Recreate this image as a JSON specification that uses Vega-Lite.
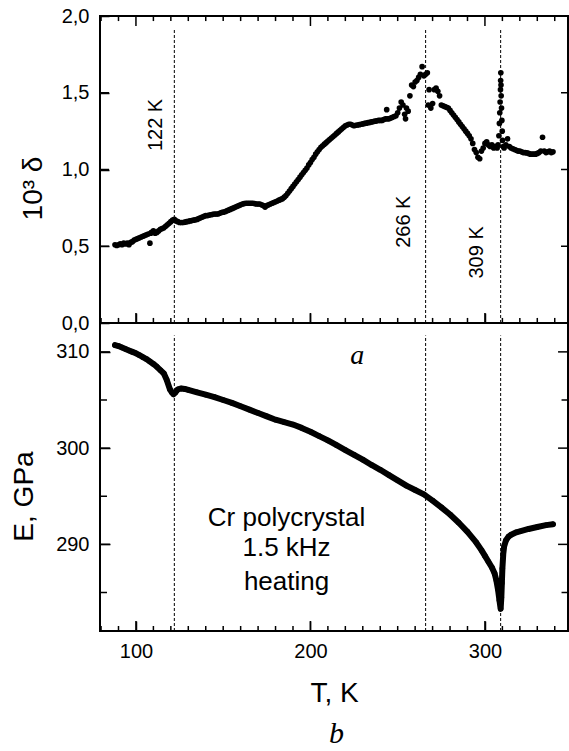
{
 "$schema": "https://vega.github.io/schema/vega-lite/v6.json",
 "background": "white",
 "padding": {"left": 9, "top": 5, "right": 0, "bottom": 3},
 "spacing": 0,
 "bounds": "flush",
 "config": {
  "view": {"stroke": "black", "strokeWidth": 2},
  "font": "Liberation Sans"
 },
 "title": {"text": "b", "orient": "bottom", "anchor": "middle", "font": "Liberation Serif", "fontStyle": "italic", "fontWeight": "normal", "fontSize": 30, "offset": 11, "dx": 47, "color": "black"},
 "datasets": {
  "delta": [
   {"T":88,"d":0.51},{"T":89,"d":0.505},{"T":90,"d":0.51},{"T":91,"d":0.515},{"T":92,"d":0.51},{"T":93,"d":0.52},{"T":94,"d":0.515},{"T":95,"d":0.52},{"T":96,"d":0.51},{"T":97,"d":0.525},{"T":98,"d":0.53},{"T":99,"d":0.54},{"T":100,"d":0.545},{"T":101,"d":0.55},{"T":102,"d":0.555},{"T":103,"d":0.56},{"T":104,"d":0.565},{"T":105,"d":0.57},{"T":106,"d":0.575},{"T":107,"d":0.58},{"T":108,"d":0.52},{"T":108.5,"d":0.585},{"T":109,"d":0.59},{"T":110,"d":0.6},{"T":111,"d":0.585},{"T":112,"d":0.59},{"T":113,"d":0.6},{"T":114,"d":0.61},{"T":115,"d":0.615},{"T":116,"d":0.62},{"T":117,"d":0.63},{"T":118,"d":0.64},{"T":119,"d":0.65},{"T":120,"d":0.66},{"T":121,"d":0.67},{"T":122,"d":0.675},{"T":123,"d":0.665},
   {"T":124,"d":0.66},{"T":125,"d":0.655},{"T":126,"d":0.655},{"T":127,"d":0.655},{"T":128,"d":0.657},{"T":129,"d":0.66},{"T":130,"d":0.662},{"T":131,"d":0.665},{"T":132,"d":0.667},{"T":133,"d":0.67},{"T":134,"d":0.672},{"T":135,"d":0.675},{"T":136,"d":0.68},{"T":137,"d":0.685},{"T":138,"d":0.69},{"T":139,"d":0.695},{"T":140,"d":0.7},{"T":141,"d":0.7},{"T":142,"d":0.703},{"T":143,"d":0.705},{"T":144,"d":0.708},{"T":145,"d":0.71},{"T":146,"d":0.71},{"T":147,"d":0.71},{"T":148,"d":0.715},{"T":149,"d":0.72},{"T":150,"d":0.722},{"T":151,"d":0.725},{"T":152,"d":0.73},{"T":153,"d":0.735},{"T":154,"d":0.74},{"T":155,"d":0.745},{"T":156,"d":0.75},{"T":157,"d":0.755},{"T":158,"d":0.76},{"T":159,"d":0.765},{"T":160,"d":0.77},{"T":161,"d":0.775},{"T":162,"d":0.778},{"T":163,"d":0.78},{"T":164,"d":0.78},{"T":165,"d":0.78},{"T":166,"d":0.78},{"T":167,"d":0.78},{"T":168,"d":0.778},{"T":169,"d":0.775},{"T":170,"d":0.775},{"T":171,"d":0.775},{"T":172,"d":0.77},{"T":173,"d":0.765},{"T":174,"d":0.755},{"T":175,"d":0.765},{"T":176,"d":0.77},{"T":177,"d":0.775},{"T":178,"d":0.78},{"T":179,"d":0.785},{"T":180,"d":0.79},{"T":181,"d":0.795},{"T":182,"d":0.8},{"T":183,"d":0.805},{"T":184,"d":0.81},{"T":185,"d":0.82},{"T":186,"d":0.83},{"T":187,"d":0.845},{"T":188,"d":0.86},{"T":189,"d":0.875},{"T":190,"d":0.89},{"T":191,"d":0.905},{"T":192,"d":0.92},{"T":193,"d":0.935},{"T":194,"d":0.95},{"T":195,"d":0.965},{"T":196,"d":0.98},{"T":197,"d":0.995},{"T":198,"d":1.01},{"T":199,"d":1.03},{"T":200,"d":1.045},{"T":201,"d":1.065},{"T":202,"d":1.08},{"T":203,"d":1.1},{"T":204,"d":1.115},{"T":205,"d":1.13},{"T":206,"d":1.145},{"T":207,"d":1.155},{"T":208,"d":1.165},{"T":209,"d":1.175},{"T":210,"d":1.185},{"T":211,"d":1.195},{"T":212,"d":1.205},{"T":213,"d":1.215},{"T":214,"d":1.225},{"T":215,"d":1.235},{"T":216,"d":1.245},{"T":217,"d":1.255},{"T":218,"d":1.265},{"T":219,"d":1.275},{"T":220,"d":1.285},{"T":221,"d":1.29},{"T":222,"d":1.295},{"T":223,"d":1.295},{"T":224,"d":1.29},{"T":225,"d":1.285},{"T":226,"d":1.288},{"T":227,"d":1.29},{"T":228,"d":1.292},{"T":229,"d":1.295},{"T":230,"d":1.297},{"T":231,"d":1.3},{"T":232,"d":1.302},{"T":233,"d":1.305},{"T":234,"d":1.307},{"T":235,"d":1.31},{"T":236,"d":1.312},{"T":237,"d":1.315},{"T":238,"d":1.317},{"T":239,"d":1.32},{"T":240,"d":1.32},{"T":241,"d":1.32},{"T":242,"d":1.325},{"T":243,"d":1.33},{"T":243.7,"d":1.39},{"T":244,"d":1.33},{"T":245,"d":1.33},{"T":246,"d":1.335},{"T":247,"d":1.34},{"T":248,"d":1.345},{"T":249,"d":1.35},
   {"T":250,"d":1.37},{"T":251,"d":1.4},{"T":252,"d":1.44},{"T":253,"d":1.42},{"T":254,"d":1.36},{"T":254.5,"d":1.33},{"T":255,"d":1.4},{"T":256,"d":1.38},{"T":257,"d":1.48},{"T":258,"d":1.55},{"T":259,"d":1.54},{"T":260,"d":1.57},{"T":261,"d":1.58},{"T":262,"d":1.6},{"T":263,"d":1.62},{"T":264,"d":1.67},{"T":265,"d":1.61},{"T":266,"d":1.62},{"T":267,"d":1.63},{"T":267.5,"d":1.42},{"T":268,"d":1.52},{"T":269,"d":1.4},{"T":270,"d":1.43},{"T":271,"d":1.52},{"T":272,"d":1.53},{"T":273,"d":1.51},{"T":274,"d":1.48},{"T":275,"d":1.42},{"T":276,"d":1.415},{"T":277,"d":1.41},{"T":278,"d":1.405},{"T":279,"d":1.4},{"T":280,"d":1.385},{"T":281,"d":1.37},{"T":282,"d":1.355},{"T":283,"d":1.34},{"T":284,"d":1.325},{"T":285,"d":1.31},{"T":286,"d":1.295},{"T":287,"d":1.28},{"T":288,"d":1.265},{"T":289,"d":1.25},{"T":290,"d":1.235},{"T":291,"d":1.22},{"T":292,"d":1.2},{"T":293,"d":1.17},{"T":294,"d":1.13},{"T":295,"d":1.11},{"T":296,"d":1.08},{"T":297,"d":1.07},{"T":298,"d":1.12},{"T":299,"d":1.14},{"T":300,"d":1.17},{"T":301,"d":1.18},{"T":302,"d":1.16},{"T":303,"d":1.15},{"T":304,"d":1.16},{"T":305,"d":1.14},{"T":306,"d":1.15},{"T":307,"d":1.14},{"T":307.5,"d":1.16},{"T":308,"d":1.22},{"T":308.3,"d":1.3},{"T":308.5,"d":1.37},{"T":308.7,"d":1.44},{"T":308.9,"d":1.52},{"T":309,"d":1.58},{"T":309.1,"d":1.63},{"T":309.2,"d":1.55},{"T":309.3,"d":1.48},{"T":309.5,"d":1.4},{"T":309.7,"d":1.32},{"T":309.9,"d":1.25},{"T":310.1,"d":1.19},{"T":310.5,"d":1.15},{"T":311,"d":1.14},{"T":312,"d":1.16},{"T":313,"d":1.2},{"T":314,"d":1.15},{"T":315,"d":1.14},{"T":316,"d":1.135},{"T":317,"d":1.13},{"T":318,"d":1.125},{"T":319,"d":1.12},{"T":320,"d":1.12},{"T":321,"d":1.115},{"T":322,"d":1.11},{"T":323,"d":1.11},{"T":324,"d":1.108},{"T":325,"d":1.105},{"T":326,"d":1.1},{"T":327,"d":1.1},{"T":328,"d":1.1},{"T":329,"d":1.1},{"T":330,"d":1.105},{"T":331,"d":1.11},{"T":332,"d":1.12},{"T":333,"d":1.21},{"T":334,"d":1.12},{"T":335,"d":1.11},{"T":336,"d":1.115},{"T":337,"d":1.12},{"T":338,"d":1.11},{"T":339,"d":1.115}
  ],
  "modulus": [
   {"T":88,"E":310.7},{"T":90,"E":310.6},{"T":92,"E":310.45},{"T":94,"E":310.3},{"T":96,"E":310.15},{"T":98,"E":310.0},{"T":100,"E":309.85},{"T":102,"E":309.65},{"T":104,"E":309.45},{"T":106,"E":309.25},{"T":108,"E":309.0},{"T":110,"E":308.75},{"T":112,"E":308.45},{"T":114,"E":308.1},{"T":116,"E":307.75},{"T":117.6,"E":307.1},{"T":119.5,"E":306.1},{"T":120.5,"E":305.8},{"T":121.5,"E":305.6},{"T":122.5,"E":305.75},{"T":124,"E":306.1},{"T":126,"E":306.2},{"T":128,"E":306.15},{"T":130,"E":306.05},{"T":135,"E":305.8},{"T":140,"E":305.55},{"T":145,"E":305.3},{"T":150,"E":305.0},{"T":155,"E":304.7},{"T":160,"E":304.35},{"T":165,"E":304.0},{"T":170,"E":303.65},{"T":175,"E":303.3},{"T":180,"E":302.95},{"T":185,"E":302.7},{"T":190,"E":302.45},{"T":195,"E":302.1},{"T":200,"E":301.7},{"T":205,"E":301.25},{"T":210,"E":300.8},{"T":215,"E":300.3},{"T":220,"E":299.8},{"T":225,"E":299.3},{"T":230,"E":298.8},{"T":235,"E":298.25},{"T":240,"E":297.75},{"T":245,"E":297.2},{"T":250,"E":296.65},{"T":255,"E":296.1},{"T":260,"E":295.65},{"T":265,"E":295.2},{"T":270,"E":294.55},{"T":275,"E":293.85},{"T":280,"E":293.1},{"T":285,"E":292.25},{"T":290,"E":291.3},{"T":295,"E":290.2},{"T":298,"E":289.4},{"T":300,"E":288.8},{"T":302,"E":288.2},{"T":304,"E":287.6},{"T":305.5,"E":287.0},{"T":306.5,"E":286.3},{"T":307.5,"E":285.3},{"T":308.3,"E":284.2},{"T":309,"E":283.3},{"T":309.4,"E":284.5},{"T":309.7,"E":286.0},{"T":310,"E":287.5},{"T":310.5,"E":289.0},{"T":311,"E":289.8},{"T":312,"E":290.4},{"T":313.5,"E":290.8},{"T":315,"E":291.0},{"T":318,"E":291.25},{"T":320,"E":291.35},{"T":325,"E":291.6},{"T":330,"E":291.8},{"T":335,"E":292.0},{"T":339,"E":292.1}
  ],
  "transitions": [{"T":122},{"T":266},{"T":309}],
  "tlabels": [{"T":111.4,"d":1.29,"label":"122 K"},{"T":253.8,"d":0.66,"label":"266 K"},{"T":295.4,"d":0.46,"label":"309 K"}],
  "notes": [{"T":186.3,"E":292.7,"label":"Cr polycrystal"},{"T":186.3,"E":289.6,"label":"1.5 kHz"},{"T":186.3,"E":286.1,"label":"heating"}],
  "panel": [{"T":226.8,"E":309.55,"label":"a"}],
  "xmajor": [{"T":100},{"T":200},{"T":300}],
  "xminor": [{"T":80},{"T":90},{"T":110},{"T":120},{"T":130},{"T":140},{"T":150},{"T":160},{"T":170},{"T":180},{"T":190},{"T":210},{"T":220},{"T":230},{"T":240},{"T":250},{"T":260},{"T":270},{"T":280},{"T":290},{"T":310},{"T":320},{"T":330},{"T":340}],
  "dticks": [{"d":0.5},{"d":1},{"d":1.5}],
  "emajor": [{"E":290},{"E":300},{"E":310}],
  "eminor": [{"E":285},{"E":295},{"E":305}]
 },
 "vconcat": [
  {
   "width": 468, "height": 307,
   "resolve": {"axis": {"x": "independent", "y": "independent"}},
   "layer": [
    {
     "data": {"name": "delta"},
     "mark": {"type": "circle", "size": 32, "color": "black", "opacity": 1},
     "encoding": {
      "x": {"field": "T", "type": "quantitative", "scale": {"domain": [79.4, 347.6], "nice": false, "zero": false},
            "axis": {"orient": "bottom", "values": [100, 200, 300], "domain": false, "grid": false, "tickColor": "black", "tickWidth": 1.5, "offset": -10, "tickSize": 10, "labels": false, "title": null}},
      "y": {"field": "d", "type": "quantitative", "scale": {"domain": [0, 2], "nice": false, "zero": false},
            "axis": {"orient": "left", "values": [0, 0.5, 1, 1.5, 2], "domain": false, "grid": false, "tickColor": "black", "tickWidth": 1.5, "offset": -9, "tickSize": 9, "labelPadding": 11, "labelFont": "Liberation Sans", "labelFontSize": 20, "labelColor": "black", "labelExpr": "replace(format(datum.value, '.1f'), '.', ',')", "title": "10³ δ", "titleFont": "Liberation Sans", "titleFontSize": 28, "titleFontWeight": "normal", "titleColor": "black", "titleX": -76, "titleY": 172, "titleBaseline": "middle"}}
     }
    },
    {
     "data": {"name": "transitions"},
     "mark": {"type": "rule", "color": "black", "strokeWidth": 1, "strokeDash": [3, 2]},
     "encoding": {
      "x": {"field": "T", "type": "quantitative", "axis": null},
      "y": {"datum": 0, "type": "quantitative", "axis": null},
      "y2": {"datum": 1.92}
     }
    },
    {
     "data": {"name": "tlabels"},
     "mark": {"type": "text", "angle": 270, "align": "center", "baseline": "middle", "font": "Liberation Sans", "fontSize": 20, "color": "black"},
     "encoding": {
      "x": {"field": "T", "type": "quantitative", "axis": null},
      "y": {"field": "d", "type": "quantitative", "axis": null},
      "text": {"field": "label"}
     }
    },
    {"data": {"name": "xmajor"}, "mark": {"type": "rule", "color": "black", "strokeWidth": 1.5},
     "encoding": {"x": {"field": "T", "type": "quantitative", "axis": null}, "y": {"datum": 0, "type": "quantitative", "axis": null}, "y2": {"datum": 0.065}}},
    {"data": {"name": "xminor"}, "mark": {"type": "rule", "color": "black", "strokeWidth": 1.5},
     "encoding": {"x": {"field": "T", "type": "quantitative", "axis": null}, "y": {"datum": 0, "type": "quantitative", "axis": null}, "y2": {"datum": 0.033}}},
    {"data": {"name": "xmajor"}, "mark": {"type": "rule", "color": "black", "strokeWidth": 1.5},
     "encoding": {"x": {"field": "T", "type": "quantitative", "axis": null}, "y": {"datum": 2, "type": "quantitative", "axis": null}, "y2": {"datum": 1.935}}},
    {"data": {"name": "xminor"}, "mark": {"type": "rule", "color": "black", "strokeWidth": 1.5},
     "encoding": {"x": {"field": "T", "type": "quantitative", "axis": null}, "y": {"datum": 2, "type": "quantitative", "axis": null}, "y2": {"datum": 1.967}}},
    {"data": {"name": "dticks"}, "mark": {"type": "rule", "color": "black", "strokeWidth": 1.5},
     "encoding": {"y": {"field": "d", "type": "quantitative", "axis": null}, "x": {"datum": 79.4, "type": "quantitative", "axis": null}, "x2": {"datum": 84.6}}},
    {"data": {"name": "dticks"}, "mark": {"type": "rule", "color": "black", "strokeWidth": 1.5},
     "encoding": {"y": {"field": "d", "type": "quantitative", "axis": null}, "x": {"datum": 347.6, "type": "quantitative", "axis": null}, "x2": {"datum": 343.6}}}
   ]
  },
  {
   "width": 468, "height": 308,
   "resolve": {"axis": {"x": "independent", "y": "independent"}},
   "layer": [
    {
     "data": {"name": "modulus"},
     "mark": {"type": "line", "color": "black", "strokeWidth": 6, "strokeCap": "round", "strokeJoin": "round"},
     "encoding": {
      "x": {"field": "T", "type": "quantitative", "scale": {"domain": [79.4, 347.6], "nice": false, "zero": false},
            "axis": {"orient": "bottom", "values": [100, 200, 300], "domain": false, "grid": false, "tickColor": "black", "tickWidth": 1.5, "offset": -10, "tickSize": 10, "labelFont": "Liberation Sans", "labelFontSize": 20, "labelColor": "black", "labelBaseline": "alphabetic", "labelPadding": 26, "title": "T, K", "titleFont": "Liberation Sans", "titleFontSize": 28, "titleFontWeight": "normal", "titleColor": "black", "titleY": 80, "titleBaseline": "alphabetic"}},
      "y": {"field": "E", "type": "quantitative", "scale": {"domain": [281, 313], "nice": false, "zero": false},
            "axis": {"orient": "left", "values": [290, 300, 310], "domain": false, "grid": false, "tickColor": "black", "tickWidth": 1.5, "offset": -10, "tickSize": 10, "labelPadding": 11, "labelFont": "Liberation Sans", "labelFontSize": 20, "labelColor": "black", "title": "E, GPa", "titleFont": "Liberation Sans", "titleFontSize": 28, "titleFontWeight": "normal", "titleColor": "black", "titleX": -86, "titleY": 173, "titleBaseline": "middle"}}
     }
    },
    {
     "data": {"name": "modulus"},
     "mark": {"type": "circle", "size": 30, "color": "black", "opacity": 1},
     "encoding": {
      "x": {"field": "T", "type": "quantitative", "axis": null},
      "y": {"field": "E", "type": "quantitative", "axis": null}
     }
    },
    {
     "data": {"name": "transitions"},
     "mark": {"type": "rule", "color": "black", "strokeWidth": 1, "strokeDash": [3, 2]},
     "encoding": {
      "x": {"field": "T", "type": "quantitative", "axis": null},
      "y": {"datum": 281, "type": "quantitative", "axis": null},
      "y2": {"datum": 311.7}
     }
    },
    {
     "data": {"name": "notes"},
     "mark": {"type": "text", "align": "center", "baseline": "middle", "font": "Liberation Sans", "fontSize": 26, "color": "black"},
     "encoding": {
      "x": {"field": "T", "type": "quantitative", "axis": null},
      "y": {"field": "E", "type": "quantitative", "axis": null},
      "text": {"field": "label"}
     }
    },
    {
     "data": {"name": "panel"},
     "mark": {"type": "text", "align": "center", "baseline": "middle", "font": "Liberation Serif", "fontStyle": "italic", "fontSize": 28, "color": "black"},
     "encoding": {
      "x": {"field": "T", "type": "quantitative", "axis": null},
      "y": {"field": "E", "type": "quantitative", "axis": null},
      "text": {"field": "label"}
     }
    },
    {"data": {"name": "xmajor"}, "mark": {"type": "rule", "color": "black", "strokeWidth": 1.5},
     "encoding": {"x": {"field": "T", "type": "quantitative", "axis": null}, "y": {"datum": 281, "type": "quantitative", "axis": null}, "y2": {"datum": 282.04}}},
    {"data": {"name": "xminor"}, "mark": {"type": "rule", "color": "black", "strokeWidth": 1.5},
     "encoding": {"x": {"field": "T", "type": "quantitative", "axis": null}, "y": {"datum": 281, "type": "quantitative", "axis": null}, "y2": {"datum": 281.52}}},
    {"data": {"name": "emajor"}, "mark": {"type": "rule", "color": "black", "strokeWidth": 1.5},
     "encoding": {"y": {"field": "E", "type": "quantitative", "axis": null}, "x": {"datum": 79.4, "type": "quantitative", "axis": null}, "x2": {"datum": 85.1}}},
    {"data": {"name": "eminor"}, "mark": {"type": "rule", "color": "black", "strokeWidth": 1.5},
     "encoding": {"y": {"field": "E", "type": "quantitative", "axis": null}, "x": {"datum": 79.4, "type": "quantitative", "axis": null}, "x2": {"datum": 83.4}}},
    {"data": {"name": "emajor"}, "mark": {"type": "rule", "color": "black", "strokeWidth": 1.5},
     "encoding": {"y": {"field": "E", "type": "quantitative", "axis": null}, "x": {"datum": 347.6, "type": "quantitative", "axis": null}, "x2": {"datum": 341.9}}},
    {"data": {"name": "eminor"}, "mark": {"type": "rule", "color": "black", "strokeWidth": 1.5},
     "encoding": {"y": {"field": "E", "type": "quantitative", "axis": null}, "x": {"datum": 347.6, "type": "quantitative", "axis": null}, "x2": {"datum": 343.9}}}
   ]
  }
 ]
}
